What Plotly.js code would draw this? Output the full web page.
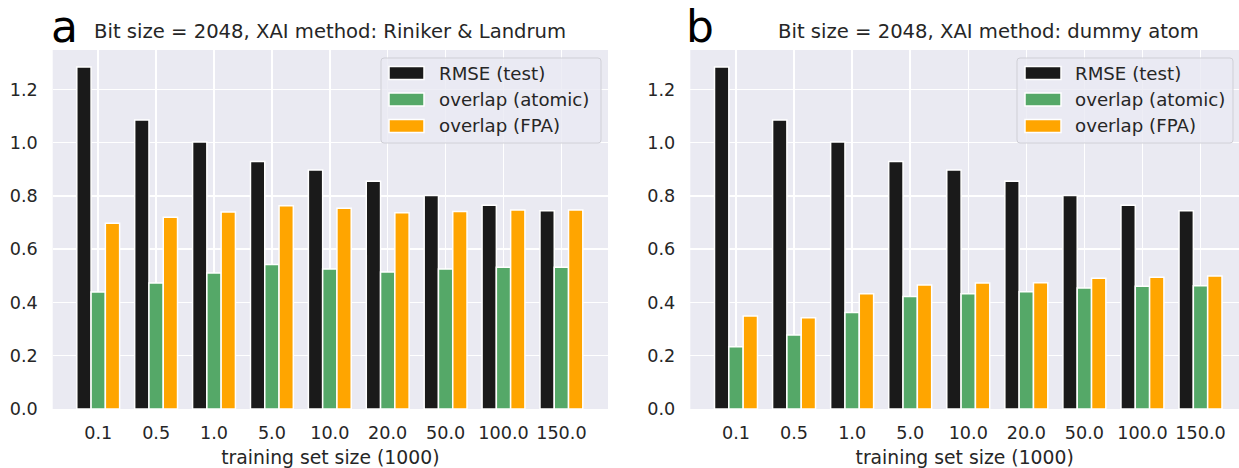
<!DOCTYPE html>
<html>
<head>
<meta charset="utf-8">
<script src="https://cdn.plot.ly/plotly-3.0.1.min.js"></script>
<style>
html,body{margin:0;padding:0;background:#fff;overflow:hidden;}
#chart{width:1239px;height:468px;}
</style>
</head>
<body>
<div id="chart"></div>
<script>
// ---- data ----
const categories = ["0.1","0.5","1.0","5.0","10.0","20.0","50.0","100.0","150.0"];
const seriesNames = ["RMSE (test)","overlap (atomic)","overlap (FPA)"];
const rmseA    = [1.284,1.085,1.003,0.929,0.897,0.855,0.802,0.765,0.744];
const atomicA  = [0.439,0.473,0.511,0.543,0.526,0.514,0.526,0.532,0.532];
const fpaA     = [0.697,0.720,0.740,0.763,0.754,0.737,0.742,0.747,0.747];
const rmseB    = [1.284,1.085,1.003,0.929,0.897,0.855,0.802,0.765,0.744];
const atomicB  = [0.234,0.278,0.362,0.422,0.433,0.440,0.454,0.461,0.463];
const fpaB     = [0.349,0.343,0.433,0.466,0.473,0.474,0.491,0.495,0.499];
const yTicks   = [0,0.2,0.4,0.6,0.8,1.0,1.2];
const titleA = "Bit size = 2048, XAI method: Riniker & Landrum";
const titleB = "Bit size = 2048, XAI method: dummy atom";
const xTitle = "training set size (1000)";

const colors = ["#1a1a1a","#55a868","#ffa500"];
const W = 1239, H = 468;
const FONT = "DejaVu Sans";
const TXT = "#262626";
const px = v => v / W;
const py = v => 1 - v / H;

function bars(vals, i, xa, ya) {
  return {
    type: "bar", x: categories, y: vals, name: seriesNames[i],
    xaxis: xa, yaxis: ya, showlegend: false,
    marker: {color: colors[i], line: {color: "#ffffff", width: 1.5}},
    hoverinfo: "skip"
  };
}
const data = [
  bars(rmseA,0,"x","y"), bars(atomicA,1,"x","y"), bars(fpaA,2,"x","y"),
  bars(rmseB,0,"x2","y2"), bars(atomicB,1,"x2","y2"), bars(fpaB,2,"x2","y2")
];

const yDom = [1 - 409/H, 1 - 50/H];
function xAxis(dom, range) {
  return {
    domain: dom, type: "category", range: range,
    showgrid: true, gridcolor: "#ffffff", gridwidth: 1.5,
    zeroline: false, showline: false, ticks: "",
    ticklabelstandoff: 11,
    tickfont: {family: FONT, size: 17.6, color: TXT},
    title: {text: xTitle, font: {family: FONT, size: 18.8, color: TXT}, standoff: 9},
    fixedrange: true
  };
}
function yAxis(anchor) {
  return {
    domain: yDom, anchor: anchor, range: [0, 1.348],
    tickvals: yTicks, tickformat: ".1f",
    showgrid: true, gridcolor: "#ffffff", gridwidth: 1.5,
    zeroline: false, showline: false, ticks: "",
    ticklabelstandoff: 14,
    tickfont: {family: FONT, size: 17.6, color: TXT},
    fixedrange: true
  };
}

// custom legends (matplotlib style)
const shapes = [];
const annotations = [];
function legend(x0, x1, patchX0, patchX1, textX) {
  const y0 = 58, y1 = 143, r = 3;
  const p = `M ${px(x0+r)},${py(y0)} L ${px(x1-r)},${py(y0)} Q ${px(x1)},${py(y0)} ${px(x1)},${py(y0+r)} ` +
            `L ${px(x1)},${py(y1-r)} Q ${px(x1)},${py(y1)} ${px(x1-r)},${py(y1)} ` +
            `L ${px(x0+r)},${py(y1)} Q ${px(x0)},${py(y1)} ${px(x0)},${py(y1-r)} ` +
            `L ${px(x0)},${py(y0+r)} Q ${px(x0)},${py(y0)} ${px(x0+r)},${py(y0)} Z`;
  shapes.push({type: "path", xref: "paper", yref: "paper", path: p,
    fillcolor: "rgba(234,234,242,0.8)", line: {color: "#cfcfd6", width: 1}});
  const rows = [73, 99.5, 126];
  rows.forEach((cy, i) => {
    shapes.push({type: "rect", xref: "paper", yref: "paper",
      x0: px(patchX0), x1: px(patchX1), y0: py(cy-6.5), y1: py(cy+6.5),
      fillcolor: colors[i], line: {color: "#ffffff", width: 1.5}});
    annotations.push({xref: "paper", yref: "paper", x: px(textX), y: py(cy),
      xanchor: "left", yanchor: "middle", showarrow: false, text: seriesNames[i],
      font: {family: FONT, size: 18.2, color: TXT}});
  });
}
legend(381, 601, 389, 424, 437);
legend(1017, 1233, 1025, 1061, 1073);

// titles and panel letters
annotations.push({xref:"paper",yref:"paper",x:px(329.5),y:py(32),xanchor:"center",yanchor:"middle",
  showarrow:false,text:titleA,font:{family:FONT,size:19.6,color:TXT}});
annotations.push({xref:"paper",yref:"paper",x:px(988.5),y:py(32),xanchor:"center",yanchor:"middle",
  showarrow:false,text:titleB,font:{family:FONT,size:19.6,color:TXT}});
annotations.push({xref:"paper",yref:"paper",x:px(49),y:py(26),xanchor:"left",yanchor:"middle",
  showarrow:false,text:"a",font:{family:FONT,size:44,color:"#000000"}});
annotations.push({xref:"paper",yref:"paper",x:px(684),y:py(26),xanchor:"left",yanchor:"middle",
  showarrow:false,text:"b",font:{family:FONT,size:44,color:"#000000"}});

const layout = {
  width: W, height: H,
  margin: {l: 0, r: 0, t: 0, b: 0},
  paper_bgcolor: "#ffffff", plot_bgcolor: "#eaeaf2",
  barmode: "group", bargap: 0.26, bargroupgap: 0,
  font: {family: FONT, color: TXT},
  xaxis: xAxis([52.7/W, 608/W], [-0.786, 8.805]),
  yaxis: yAxis("x"),
  xaxis2: Object.assign(xAxis([690.3/W, 1], [-0.787, 8.663]), {anchor: "y2"}),
  yaxis2: yAxis("x2"),
  shapes: shapes, annotations: annotations,
  showlegend: false
};
layout.xaxis.anchor = "y";

Plotly.newPlot("chart", data, layout, {displayModeBar: false, staticPlot: true});
</script>
</body>
</html>
